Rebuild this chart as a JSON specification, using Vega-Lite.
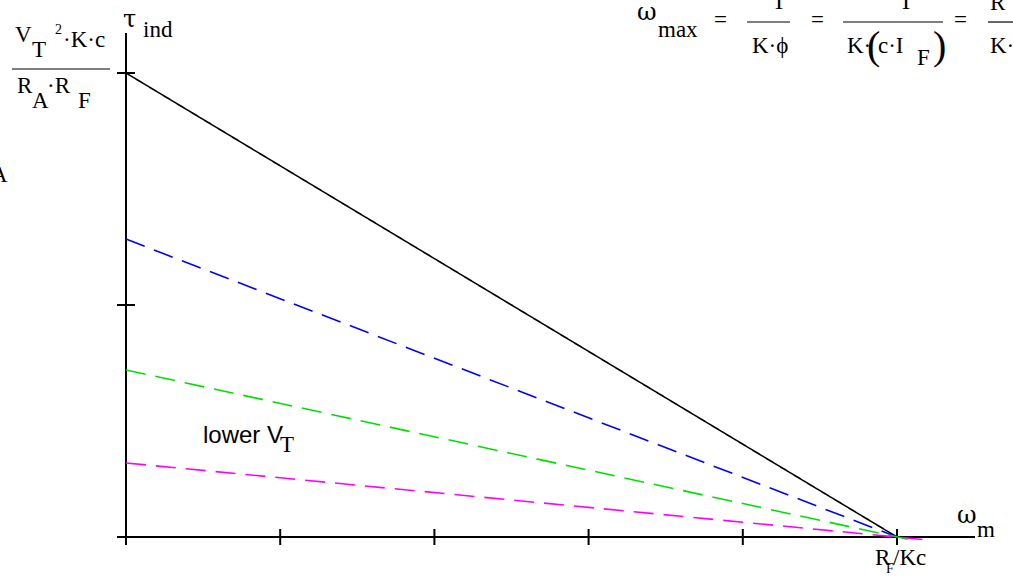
{
  "$schema": "https://vega.github.io/schema/vega-lite/v6.json",
  "width": 1013,
  "height": 581,
  "autosize": {"type": "none"},
  "padding": 0,
  "background": "white",
  "config": {"view": {"stroke": null}},
  "datasets": {
    "lines": [
      {"s": "black", "x": 0, "y": 2},
      {"s": "black", "x": 5, "y": 0},
      {"s": "blue", "x": 0, "y": 1.284},
      {"s": "blue", "x": 5, "y": 0},
      {"s": "green", "x": 0, "y": 0.72},
      {"s": "green", "x": 5.07, "y": -0.01},
      {"s": "magenta", "x": 0, "y": 0.319},
      {"s": "magenta", "x": 5.17, "y": -0.011}
    ],
    "hAxis": [{"x": -0.0584, "x2": 5.5058, "y": 0}],
    "vAxis": [{"x": 0, "y": -0.0345, "y2": 2.1724}],
    "xTicks": [
      {"x": 1, "y": -0.0345, "y2": 0.0345},
      {"x": 2, "y": -0.0345, "y2": 0.0345},
      {"x": 3, "y": -0.0345, "y2": 0.0345},
      {"x": 4, "y": -0.0345, "y2": 0.0345},
      {"x": 5, "y": -0.0345, "y2": 0.0345}
    ],
    "yTicks": [
      {"y": 1, "x": -0.0584, "x2": 0.0584},
      {"y": 2, "x": -0.0584, "x2": 0.0584}
    ],
    "fracBars": [
      {"x": -0.7393, "x2": -0.1038, "y": 2.0172},
      {"x": 4.0272, "x2": 4.3061, "y": 2.2198},
      {"x": 4.6498, "x2": 5.2983, "y": 2.2198},
      {"x": 5.5901, "x2": 5.7523, "y": 2.2198}
    ],
    "serif": [
      {"t": "V", "x": -0.7198, "y": 2.1336},
      {"t": "T", "x": -0.6096, "y": 2.069},
      {"t": "·K·c", "x": -0.4086, "y": 2.1121},
      {"t": "R", "x": -0.7069, "y": 1.9138},
      {"t": "A", "x": -0.6096, "y": 1.8491},
      {"t": "·R", "x": -0.5123, "y": 1.9138},
      {"t": "F", "x": -0.3113, "y": 1.8491},
      {"t": "ind", "x": 0.1102, "y": 2.1552},
      {"t": "A", "x": -0.8755, "y": 1.5302},
      {"t": "max", "x": 3.4501, "y": 2.1552},
      {"t": "=", "x": 3.8132, "y": 2.1983},
      {"t": "V", "x": 4.0921, "y": 2.3147},
      {"t": "T", "x": 4.1894, "y": 2.2759},
      {"t": "K·ϕ", "x": 4.0597, "y": 2.0862},
      {"t": "=", "x": 4.4423, "y": 2.1983},
      {"t": "V", "x": 4.9157, "y": 2.3147},
      {"t": "T", "x": 5.013, "y": 2.2759},
      {"t": "K·", "x": 4.6757, "y": 2.0862},
      {"t": "c·I", "x": 4.8768, "y": 2.0862},
      {"t": "F", "x": 5.1297, "y": 2.0345},
      {"t": "=", "x": 5.3696, "y": 2.1983},
      {"t": "R", "x": 5.6031, "y": 2.2716},
      {"t": "K·", "x": 5.6031, "y": 2.0862},
      {"t": "T", "x": 0.9987, "y": 0.3664},
      {"t": "R", "x": 4.8573, "y": -0.1207},
      {"t": "/Kc", "x": 4.9741, "y": -0.1207},
      {"t": "m", "x": 5.5188, "y": 0}
    ],
    "greek": [
      {"t": "τ", "x": -0.0195, "y": 2.1983},
      {"t": "ω", "x": 3.3139, "y": 2.2284},
      {"t": "ω", "x": 5.3891, "y": 0.0603}
    ],
    "serifSmall": [
      {"t": "2", "x": -0.4604, "y": 2.1681},
      {"t": "F", "x": 4.9287, "y": -0.1552}
    ],
    "parens": [
      {"t": "(", "x": 4.8054, "y": 2.0603},
      {"t": ")", "x": 5.2335, "y": 2.0603}
    ],
    "sans": [
      {"t": "lower V", "x": 0.4994, "y": 0.4052}
    ]
  },
  "encoding": {
    "x": {"field": "x", "type": "quantitative", "scale": {"domain": [-0.8171, 5.7523], "nice": false, "zero": false}, "axis": null},
    "y": {"field": "y", "type": "quantitative", "scale": {"domain": [-0.1897, 2.3147], "nice": false, "zero": false}, "axis": null}
  },
  "layer": [
    {
      "data": {"name": "hAxis"},
      "mark": {"type": "rule", "color": "black", "strokeWidth": 2},
      "encoding": {"x2": {"field": "x2"}}
    },
    {
      "data": {"name": "vAxis"},
      "mark": {"type": "rule", "color": "black", "strokeWidth": 2},
      "encoding": {"y2": {"field": "y2"}}
    },
    {
      "data": {"name": "xTicks"},
      "mark": {"type": "rule", "color": "black", "strokeWidth": 2},
      "encoding": {"y2": {"field": "y2"}}
    },
    {
      "data": {"name": "yTicks"},
      "mark": {"type": "rule", "color": "black", "strokeWidth": 2},
      "encoding": {"x2": {"field": "x2"}}
    },
    {
      "data": {"name": "lines"},
      "mark": {"type": "line", "strokeWidth": 1.6},
      "encoding": {
        "color": {"field": "s", "type": "nominal", "scale": {"domain": ["black", "blue", "green", "magenta"], "range": ["#000000", "#0000ff", "#00e000", "#ff00ff"]}, "legend": null},
        "strokeDash": {"field": "s", "type": "nominal", "scale": {"domain": ["black", "blue", "green", "magenta"], "range": [[1, 0], [20, 10], [20, 10], [20, 10]]}, "legend": null}
      }
    },
    {
      "data": {"name": "fracBars"},
      "mark": {"type": "rule", "color": "black", "strokeWidth": 1.2},
      "encoding": {"x2": {"field": "x2"}}
    },
    {
      "data": {"name": "serif"},
      "mark": {"type": "text", "font": "Liberation Serif", "fontSize": 23, "align": "left", "baseline": "alphabetic", "color": "black"},
      "encoding": {"text": {"field": "t"}}
    },
    {
      "data": {"name": "greek"},
      "mark": {"type": "text", "font": "DejaVu Serif", "fontSize": 24, "align": "left", "baseline": "alphabetic", "color": "black"},
      "encoding": {"text": {"field": "t"}}
    },
    {
      "data": {"name": "serifSmall"},
      "mark": {"type": "text", "font": "Liberation Serif", "fontSize": 14, "align": "left", "baseline": "alphabetic", "color": "black"},
      "encoding": {"text": {"field": "t"}}
    },
    {
      "data": {"name": "parens"},
      "mark": {"type": "text", "font": "Liberation Serif", "fontSize": 40, "align": "left", "baseline": "alphabetic", "color": "black"},
      "encoding": {"text": {"field": "t"}}
    },
    {
      "data": {"name": "sans"},
      "mark": {"type": "text", "font": "Liberation Sans", "fontSize": 24, "align": "left", "baseline": "alphabetic", "color": "black"},
      "encoding": {"text": {"field": "t"}}
    }
  ]
}
